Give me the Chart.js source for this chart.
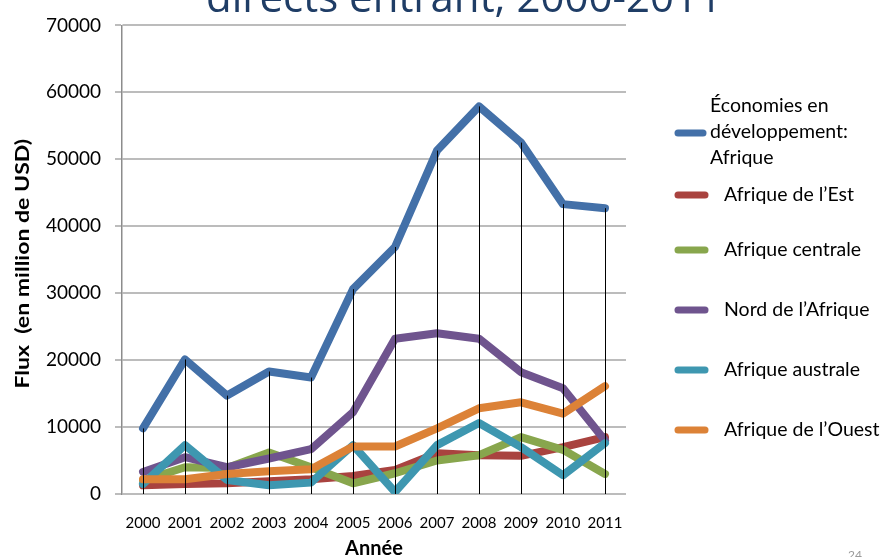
<!DOCTYPE html>
<html>
<head>
<meta charset="utf-8">
<script src="https://cdn.jsdelivr.net/npm/chart.js@4/dist/chart.umd.min.js"></script>
<style>
  html, body { margin: 0; padding: 0; background: #fff; }
  #wrap { width: 883px; height: 557px; position: relative; }
</style>
</head>
<body>
<div id="wrap"><canvas id="fdiChart" width="883" height="557"></canvas></div>
<script>
// IDE entrants en Afrique, millions USD
const years = ['2000', '2001', '2002', '2003', '2004', '2005', '2006', '2007', '2008', '2009', '2010', '2011'];
const afrique  = [9800, 20100, 14700, 18300, 17400, 30600, 36900, 51300, 57900, 52500, 43300, 42700];
const est      = [1300, 1500, 1600, 1900, 2200, 2700, 3600, 6100, 5800, 5700, 7000, 8500];
const centrale = [2000, 4000, 3900, 6200, 4000, 1600, 3100, 5000, 5800, 8500, 6600, 3000];
const nord     = [3300, 5500, 4000, 5300, 6700, 12200, 23200, 24000, 23200, 18200, 15800, 8000];
const australe = [1500, 7300, 2100, 1300, 1700, 7300, 300, 7300, 10600, 7000, 2800, 7600];
const ouest    = [2200, 2200, 3000, 3400, 3700, 7100, 7100, 9800, 12800, 13700, 12000, 16100];

const seriesNames = [
  ['Économies en', 'développement:', 'Afrique'],
  'Afrique de l\u2019Est',
  'Afrique centrale',
  'Nord de l\u2019Afrique',
  'Afrique australe',
  'Afrique de l\u2019Ouest'
];
const seriesColors = ['#4370a8', '#a9433f', '#88a64d', '#6f548e', '#3e97b0', '#dc8237'];
const seriesData = [afrique, est, centrale, nord, australe, ouest];

const FONT = 'Lato, "Open Sans", sans-serif';

// black drop lines from the top series down to the category axis
const dropLines = {
  id: 'dropLines',
  afterDatasetsDraw(chart) {
    const ctx = chart.ctx;
    const x = chart.scales.x, y = chart.scales.y;
    ctx.save();
    ctx.strokeStyle = '#000';
    ctx.lineWidth = 1;
    years.forEach((yr, i) => {
      const top = Math.max(...seriesData.map(s => s[i]));
      const px = Math.round(x.getPixelForValue(i)) + 0.5;
      ctx.beginPath();
      ctx.moveTo(px, y.getPixelForValue(top));
      ctx.lineTo(px, y.getPixelForValue(0));
      ctx.stroke();
    });
    ctx.restore();
  }
};

// slide title (partly off the top), axis titles, legend on the right, page number
const decorations = {
  id: 'decorations',
  afterDraw(chart) {
    const ctx = chart.ctx;
    const area = chart.chartArea;
    ctx.save();
    ctx.fillStyle = '#1f3d66';
    ctx.font = '42px "Open Sans", sans-serif';
    ctx.textAlign = 'center';
    ctx.textBaseline = 'alphabetic';
    ctx.fillText('directs entrant, 2000-2011', 464, 12);

    // axis titles, the vertical one stretched along its length
    ctx.fillStyle = '#000';
    ctx.textBaseline = 'middle';
    ctx.font = 'bold 18px ' + FONT;
    ctx.save();
    ctx.translate(23, (area.top + area.bottom) / 2 + 4);
    ctx.rotate(-Math.PI / 2);
    ctx.scale(1.28, 1);
    ctx.fillText('Flux  (en million de USD)', 0, 0);
    ctx.restore();
    ctx.font = 'bold 20px ' + FONT;
    ctx.fillText('Année', (area.left + area.right) / 2, 549);

    const rows = [133, 195, 250, 310, 370, 430];
    ctx.lineCap = 'round';
    ctx.lineWidth = 7;
    ctx.font = '19.5px ' + FONT;
    ctx.textAlign = 'left';
    chart.data.datasets.forEach((ds, i) => {
      ctx.strokeStyle = ds.borderColor;
      ctx.beginPath();
      ctx.moveTo(678, rows[i]);
      ctx.lineTo(i === 0 ? 703 : 705, rows[i]);
      ctx.stroke();
      ctx.fillStyle = '#000';
      if (Array.isArray(ds.label)) {
        ds.label.forEach((t, k) => ctx.fillText(t, 710, rows[i] - 27 + k * 26));
      } else {
        ctx.fillText(ds.label, 724, rows[i]);
      }
    });

    ctx.fillStyle = '#9a9a9a';
    ctx.font = '12px ' + FONT;
    ctx.textBaseline = 'top';
    ctx.fillText('24', 848, 549);
    ctx.restore();
  }
};

const datasets = seriesData.map((d, i) => ({
  label: seriesNames[i],
  data: d,
  borderColor: seriesColors[i],
  backgroundColor: seriesColors[i],
  borderWidth: 8,
  borderCapStyle: 'round',
  borderJoinStyle: 'round',
  pointRadius: 0,
  tension: 0,
  fill: false,
  order: seriesData.length - i
}));

new Chart(document.getElementById('fdiChart'), {
  type: 'line',
  data: { labels: years, datasets: datasets },
  plugins: [dropLines, decorations],
  options: {
    responsive: false,
    animation: false,
    layout: { padding: { top: 25, right: 257, left: 0, bottom: 0 } },
    plugins: {
      legend: { display: false },
      tooltip: { enabled: false },
      title: { display: false }
    },
    scales: {
      x: {
        offset: true,
        grid: { display: false },
        border: { display: false },
        ticks: { color: '#000', font: { family: FONT, size: 15 }, padding: 12, maxRotation: 0, autoSkip: false },
        afterFit(scale) { scale.height = 63; }
      },
      y: {
        min: 0, max: 70000,
        ticks: {
          stepSize: 10000, color: '#000', font: { family: FONT, size: 19 }, padding: 14,
          callback: v => String(v)
        },
        grid: { color: '#bcbcbc', lineWidth: 2, tickLength: 7 },
        border: { display: true, color: '#8c8c8c', width: 1.5 },
        afterFit(scale) { scale.width = 122; }
      }
    }
  }
});
</script>
</body>
</html>
